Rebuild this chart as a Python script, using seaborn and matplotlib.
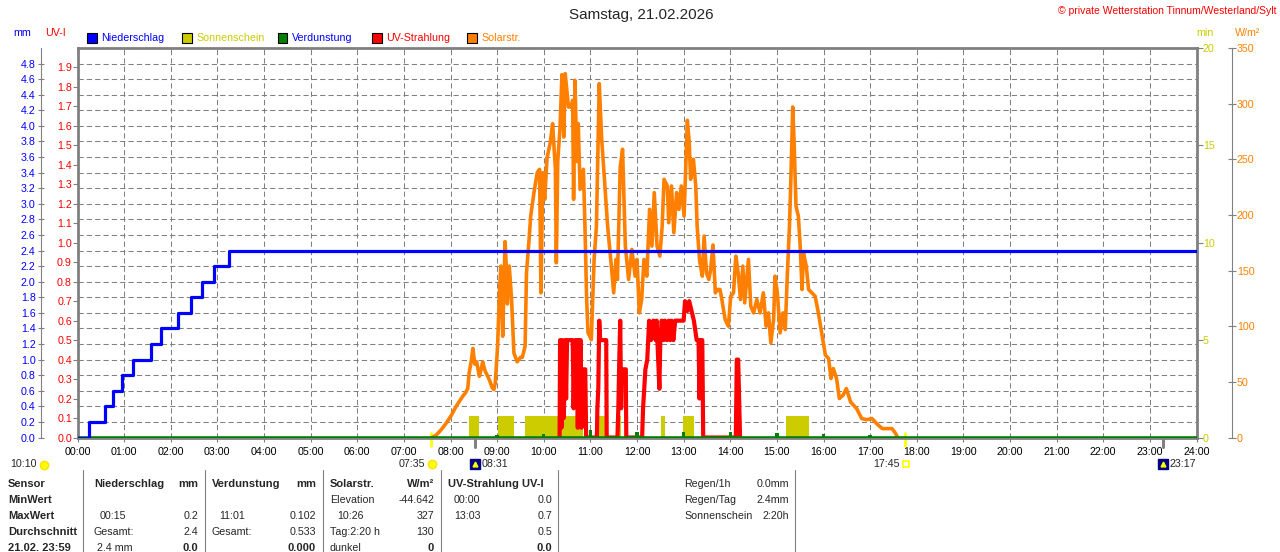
import matplotlib
matplotlib.use("Agg")
import matplotlib.pyplot as plt
import matplotlib.transforms as mtransforms
from matplotlib.patches import Rectangle
from matplotlib.lines import Line2D
import seaborn as sns

# ---------------- data ----------------
hours = [0, 1, 2, 3, 4, 5, 6, 7, 8, 9, 10, 11, 12, 13, 14, 15, 16, 17, 18, 19, 20, 21, 22, 23, 24]
hour_labels = ["00:00", "01:00", "02:00", "03:00", "04:00", "05:00", "06:00", "07:00", "08:00",
               "09:00", "10:00", "11:00", "12:00", "13:00", "14:00", "15:00", "16:00", "17:00",
               "18:00", "19:00", "20:00", "21:00", "22:00", "23:00", "24:00"]

mm_ticks = [0.0, 0.2, 0.4, 0.6, 0.8, 1.0, 1.2, 1.4, 1.6, 1.8, 2.0, 2.2, 2.4, 2.6, 2.8, 3.0,
            3.2, 3.4, 3.6, 3.8, 4.0, 4.2, 4.4, 4.6, 4.8]
uv_ticks = [0.0, 0.1, 0.2, 0.3, 0.4, 0.5, 0.6, 0.7, 0.8, 0.9, 1.0, 1.1, 1.2, 1.3, 1.4, 1.5,
            1.6, 1.7, 1.8, 1.9]
min_ticks = [0, 5, 10, 15, 20]
w_ticks = [0, 50, 100, 150, 200, 250, 300, 350]

# cumulative precipitation (mm)
precip_t = [0.0, 0.25, 0.58, 0.76, 0.95, 1.20, 1.57, 1.80, 2.15, 2.44, 2.67, 2.92, 3.26, 24.0]
precip_mm = [0.0, 0.2, 0.4, 0.6, 0.8, 1.0, 1.2, 1.4, 1.6, 1.8, 2.0, 2.2, 2.4, 2.4]

# sunshine (min) periods
sun_start = [8.39, 9.01, 9.59, 11.19, 11.61, 12.51, 12.99, 15.20]
sun_end = [8.62, 9.37, 10.84, 11.34, 11.66, 12.60, 13.23, 15.68]
sun_min = [1.1, 1.1, 1.1, 1.1, 1.1, 1.1, 1.1, 1.1]

# evaporation (mm)
evap_t = [9, 10, 11, 12, 13, 14, 15, 16, 17]
evap_mm = [0.03, 0.05, 0.102, 0.07, 0.07, 0.07, 0.055, 0.05, 0.03]

# UV index
uv_t = [10.34, 10.35, 10.38, 10.40, 10.43, 10.46, 10.48, 10.50, 10.62, 10.63, 10.64, 10.66,
        10.68, 10.71, 10.73, 10.75, 10.77, 10.79, 10.81, 10.84, 10.89, 10.91,
        11.14, 11.15, 11.17, 11.19, 11.21, 11.34, 11.35,
        11.58, 11.60, 11.62, 11.64, 11.66, 11.68, 11.76, 11.77,
        12.11, 12.13, 12.18, 12.22, 12.26, 12.30, 12.35, 12.40, 12.42, 12.48, 12.50, 12.53,
        12.57, 12.60, 12.64, 12.68, 12.71, 12.74, 12.78, 12.82, 12.85, 12.92, 13.00, 13.03,
        13.08, 13.12, 13.17, 13.22, 13.28, 13.32, 13.34, 13.36, 13.40, 13.42,
        14.12, 14.14, 14.17, 14.19, 14.21]
uv_v = [0.0, 0.5, 0.05, 0.5, 0.1, 0.5, 0.2, 0.5, 0.5, 0.35, 0.15, 0.4,
        0.5, 0.5, 0.05, 0.5, 0.1, 0.5, 0.05, 0.35, 0.35, 0.0,
        0.0, 0.15, 0.25, 0.6, 0.5, 0.5, 0.0,
        0.0, 0.15, 0.4, 0.6, 0.15, 0.35, 0.35, 0.0,
        0.0, 0.15, 0.35, 0.4, 0.6, 0.5, 0.6, 0.5, 0.6, 0.25, 0.5, 0.6,
        0.5, 0.6, 0.5, 0.6, 0.5, 0.6, 0.5, 0.6, 0.6, 0.6, 0.6, 0.7,
        0.65, 0.7, 0.65, 0.6, 0.5, 0.5, 0.2, 0.5, 0.5, 0.0,
        0.0, 0.4, 0.4, 0.2, 0.0]

# solar radiation (W/m2)
solar_t = [7.60, 7.69, 7.80, 7.91, 8.02, 8.12, 8.20, 8.26, 8.32, 8.37, 8.40, 8.45, 8.48, 8.52, 8.56,
           8.62, 8.66, 8.69, 8.74, 8.80, 8.85, 8.89, 8.93, 8.96, 9.01, 9.05, 9.08, 9.12, 9.15, 9.17,
           9.20, 9.22, 9.26, 9.31, 9.36, 9.43, 9.50, 9.54, 9.60, 9.63, 9.68, 9.72, 9.79, 9.86, 9.91,
           9.94, 9.98, 10.02, 10.07, 10.14, 10.19, 10.25, 10.27, 10.30, 10.35, 10.39, 10.43, 10.46,
           10.53, 10.59, 10.62, 10.64, 10.67, 10.71, 10.74, 10.78, 10.85, 10.88, 10.92, 10.95, 11.02,
           11.08, 11.13, 11.19, 11.24, 11.30, 11.37, 11.45, 11.50, 11.55, 11.58, 11.64, 11.69, 11.75,
           11.82, 11.89, 11.96, 12.00, 12.05, 12.10, 12.15, 12.21, 12.27, 12.32, 12.37, 12.43, 12.49,
           12.54, 12.58, 12.65, 12.68, 12.74, 12.79, 12.85, 12.90, 12.95, 13.01, 13.04, 13.08, 13.12,
           13.15, 13.21, 13.26, 13.29, 13.34, 13.40, 13.44, 13.49, 13.54, 13.58, 13.63, 13.68, 13.73,
           13.78, 13.82, 13.89, 13.96, 14.01, 14.07, 14.12, 14.17, 14.22, 14.27, 14.31, 14.39, 14.44,
           14.50, 14.57, 14.64, 14.71, 14.77, 14.82, 14.87, 14.93, 14.96, 15.01, 15.07, 15.13, 15.18,
           15.22, 15.27, 15.30, 15.34, 15.37, 15.41, 15.46, 15.50, 15.54, 15.57, 15.63, 15.68, 15.75,
           15.82, 15.89, 15.96, 16.04, 16.11, 16.16, 16.21, 16.28, 16.34, 16.42, 16.49, 16.58, 16.71,
           16.82, 16.93, 17.04, 17.15, 17.26, 17.47, 17.54, 17.58]
solar_w = [0, 2, 7, 13, 20, 28, 33, 37, 40, 44, 58, 70, 80, 66, 68,
           55, 62, 68, 60, 55, 50, 45, 43, 49, 82, 130, 154, 91, 140, 176,
           150, 120, 154, 124, 76, 68, 72, 72, 82, 148, 175, 199, 220, 238, 241,
           130, 238, 214, 251, 265, 282, 241, 157, 248, 279, 326, 270, 327,
           297, 297, 303, 214, 321, 248, 282, 223, 241, 196, 124, 94, 88,
           160, 190, 318, 270, 233, 190, 154, 130, 160, 142, 243, 259, 172,
           142, 169, 145, 160, 112, 124, 160, 145, 205, 172, 220, 172, 163,
           190, 232, 226, 193, 226, 184, 220, 205, 226, 199, 235, 285, 265,
           232, 250, 226, 190, 160, 145, 181, 148, 142, 151, 173, 130, 133,
           133, 124, 106, 100, 127, 130, 163, 148, 124, 154, 121, 160, 118,
           112, 124, 112, 130, 100, 112, 85, 106, 145, 130, 94, 112, 97,
           142, 190, 232, 297, 265, 208, 199, 172, 133, 166, 154, 133, 130,
           127, 112, 94, 74, 71, 53, 62, 53, 35, 38, 44, 32, 26,
           17, 16, 17, 12, 8, 8, 4, 1]

sunrise, sunset = 7 + 35 / 60, 17 + 45 / 60
moonrise, moonset = 8 + 31 / 60, 23 + 17 / 60
day_length = "10:10"

# ---------------- style ----------------
sns.set_theme(style="white")
plt.rcParams["font.family"] = ["Liberation Sans", "DejaVu Sans"]

BLUE, RED, ORANGE, YELLOW, GREEN, GRAY = "#0000FF", "#FF0000", "#FF8000", "#CCCC00", "#008000", "#808080"
FS = 7.7
W_PX, H_PX = 1280, 552


def fx(x):
    return x / W_PX


def fy(y):
    return 1 - y / H_PX


def hhmm(t):
    return f"{int(t):02d}:{round((t % 1) * 60):02d}"


fig = plt.figure(figsize=(12.8, 5.52), dpi=100)
L, R, T, B = 77.5, 1196.5, 48.0, 437.5
ax = fig.add_axes([fx(L), fy(B), fx(R - L), (B - T) / H_PX])

# base axis: mm scale + grid
ax.set_xlim(0, 24)
ax.set_ylim(0, 5)
ax.set_xticks(hours)
ax.set_xticklabels(hour_labels)
ax.set_yticks(mm_ticks)
ax.set_yticklabels([f"{v:.1f}" for v in mm_ticks])
ax.set_axisbelow(True)
ax.grid(True, color=GRAY, ls=(0, (5, 3)), lw=0.75)
ax.spines["left"].set_position(("outward", 26.6))
ax.spines["left"].set_color(GRAY)
ax.spines["left"].set_linewidth(0.8)
for s in ("top", "bottom"):
    ax.spines[s].set_color(GRAY)
    ax.spines[s].set_linewidth(2)
ax.spines["right"].set_visible(False)
ax.tick_params(axis="y", direction="inout", length=5, width=0.8, color=GRAY,
               labelcolor=BLUE, labelsize=FS, pad=1)
ax.tick_params(axis="x", direction="out", length=3, width=0.8, color=GRAY,
               labelcolor="black", labelsize=FS, pad=3.5, bottom=True)

# sunshine (min)
ax_min = ax.twinx()
ax_min.set_ylim(0, 20)
ax_min.set_yticks(min_ticks)
for s in ("top", "bottom", "left"):
    ax_min.spines[s].set_visible(False)
ax_min.spines["right"].set_color(GRAY)
ax_min.spines["right"].set_linewidth(2)
ax_min.tick_params(axis="y", direction="out", length=4, width=0.8, color=GRAY,
                   labelcolor=YELLOW, labelsize=FS, pad=0.5)
durations = [e - s for s, e in zip(sun_start, sun_end)]
ax_min.bar(sun_start, sun_min, width=durations, align="edge", color=YELLOW, lw=0)

# solar radiation (W/m2)
ax_w = ax.twinx()
ax_w.set_ylim(0, 350)
ax_w.set_yticks(w_ticks)
for s in ("top", "bottom", "left"):
    ax_w.spines[s].set_visible(False)
ax_w.spines["right"].set_position(("outward", 25.9))
ax_w.spines["right"].set_color(GRAY)
ax_w.spines["right"].set_linewidth(0.8)
ax_w.tick_params(axis="y", direction="inout", length=5.5, width=0.8, color=GRAY,
                 labelcolor=ORANGE, labelsize=FS, pad=0.5)
sns.lineplot(x=solar_t, y=solar_w, ax=ax_w, color=ORANGE, lw=2.6, estimator=None)

# UV index
ax_uv = ax.twinx()
ax_uv.set_ylim(0, 2.0)
ax_uv.yaxis.tick_left()
ax_uv.set_yticks(uv_ticks)
ax_uv.set_yticklabels([f"{v:.1f}" for v in uv_ticks])
for s in ("top", "bottom", "right"):
    ax_uv.spines[s].set_visible(False)
ax_uv.spines["left"].set_visible(True)
ax_uv.spines["left"].set_color(GRAY)
ax_uv.spines["left"].set_linewidth(2)
ax_uv.tick_params(axis="y", direction="out", length=3.5, width=0.8, color=GRAY,
                  labelcolor=RED, labelsize=FS, pad=0.5, left=True, right=False,
                  labelleft=True, labelright=False)
sns.lineplot(x=uv_t, y=uv_v, ax=ax_uv, color=RED, lw=3.0, estimator=None)

# evaporation + precipitation on top
ax_top = ax.twinx()
ax_top.set_ylim(0, 5)
ax_top.set_xlim(0, 24)
ax_top.axis("off")
ax_top.bar(evap_t, evap_mm, width=0.07, color=GREEN, lw=0)
ax_top.axhline(0, color=GREEN, lw=2.6, clip_on=True)
sns.lineplot(x=precip_t, y=precip_mm, ax=ax_top, color=BLUE, lw=2.3, estimator=None,
             drawstyle="steps-post")
for a in (ax_min, ax_w, ax_uv, ax_top):
    a.set_xlim(0, 24)
    a.set_ylabel("")
    a.set_xlabel("")

# sun / moon markers below the axis
ax.axvline(sunrise, ymin=-0.022, ymax=0.012, color="#FFFF00", lw=2, clip_on=False)
ax.axvline(sunset, ymin=-0.022, ymax=0.012, color="#FFFF00", lw=2, clip_on=False)
ax.axvline(moonrise, ymin=-0.025, ymax=0.0, color=GRAY, lw=2.2, clip_on=False)
ax.axvline(moonset, ymin=-0.025, ymax=0.0, color=GRAY, lw=2.2, clip_on=False)

dy = -(464 - B) * 0.72


def below(dx_pt):
    return ax.get_xaxis_transform() + mtransforms.ScaledTranslation(dx_pt / 72, dy / 72,
                                                                     fig.dpi_scale_trans)


ax.annotate(hhmm(sunrise), xy=(sunrise, 0), xycoords=("data", "axes fraction"),
            xytext=(-4.5, dy), textcoords="offset points", ha="right", va="center", fontsize=FS)
ax.plot([sunrise], [0], marker="o", ms=6, mfc="#FFFF00", mec="#FFE000", clip_on=False,
        ls="none", transform=below(0.7))
ax.annotate(hhmm(sunset), xy=(sunset, 0), xycoords=("data", "axes fraction"),
            xytext=(-4.0, dy), textcoords="offset points", ha="right", va="center", fontsize=FS)
ax.plot([sunset], [0], marker="s", ms=4, mfc="white", mec="#FFFF00", mew=1.2,
        clip_on=False, ls="none", transform=below(0.7))
for mt in (moonrise, moonset):
    ax.annotate(hhmm(mt), xy=(mt, 0), xycoords=("data", "axes fraction"),
                xytext=(4.8, dy), textcoords="offset points", ha="left", va="center", fontsize=FS)
    ax.plot([mt], [0], marker="s", ms=6.5, mfc="#000080", mec="#000080", clip_on=False,
            ls="none", transform=below(0))
    ax.plot([mt], [0], marker="^", ms=3.5, mfc="#FFFF00", mec="#FFFF00", clip_on=False,
            ls="none", transform=below(0))

fig.text(fx(10), fy(464), day_length, ha="left", va="center", fontsize=FS)
fig.add_artist(Line2D([fx(44)], [fy(465)], marker="o", ms=6, mfc="#FFFF00", mec="#FFE000",
                      ls="none", transform=fig.transFigure))

# ---------------- header texts ----------------
fig.text(fx(641), fy(15), "Samstag, 21.02.2026", ha="center", va="center", fontsize=11)
fig.text(fx(1277), fy(11), "© private Wetterstation Tinnum/Westerland/Sylt", ha="right",
         va="center", fontsize=7.5, color=RED)
fig.text(fx(22), fy(33), "mm", ha="center", va="center", fontsize=FS, color=BLUE)
fig.text(fx(56), fy(33), "UV-I", ha="center", va="center", fontsize=FS, color=RED)
fig.text(fx(1205), fy(33), "min", ha="center", va="center", fontsize=FS, color=YELLOW)
fig.text(fx(1248), fy(33), "W/m²", ha="center", va="center", fontsize=FS, color=ORANGE)

legend_items = [("Niederschlag", BLUE, BLUE, 87), ("Sonnenschein", YELLOW, YELLOW, 182),
                ("Verdunstung", GREEN, BLUE, 277.5), ("UV-Strahlung", RED, RED, 372),
                ("Solarstr.", ORANGE, ORANGE, 467)]
for name, fc, tc, x0 in legend_items:
    fig.add_artist(Rectangle((fx(x0), fy(43)), 9.5 / W_PX, 10 / H_PX, transform=fig.transFigure,
                             fc=fc, ec="black", lw=0.8))
    fig.text(fx(x0 + 14.5), fy(38), name, ha="left", va="center", fontsize=FS, color=tc)

# ---------------- bottom table ----------------
rows_y = [484, 500, 516, 532, 548]
for x in (83, 205, 323, 441, 558, 795):
    fig.add_artist(Line2D([fx(x), fx(x)], [fy(470), fy(552)], color=GRAY, lw=0.8,
                          transform=fig.transFigure))

row_labels = ["Sensor", "MinWert", "MaxWert", "Durchschnitt", "21.02. 23:59"]
for y, t in zip(rows_y, row_labels):
    fig.text(fx(8), fy(y), t, ha="left", va="center", fontsize=8, fontweight="bold")

cells = [
    # (x, row, text, ha, bold)
    (94, 0, "Niederschlag", "left", True), (198, 0, "mm", "right", True),
    (100, 2, "00:15", "left", False), (198, 2, "0.2", "right", False),
    (94, 3, "Gesamt:", "left", False), (198, 3, "2.4", "right", False),
    (97, 4, "2.4 mm", "left", False), (198, 4, "0.0", "right", True),
    (212, 0, "Verdunstung", "left", True), (316, 0, "mm", "right", True),
    (219, 2, "11:01", "left", False), (316, 2, "0.102", "right", False),
    (212, 3, "Gesamt:", "left", False), (316, 3, "0.533", "right", False),
    (316, 4, "0.000", "right", True),
    (330, 0, "Solarstr.", "left", True), (434, 0, "W/m²", "right", True),
    (330, 1, "Elevation", "left", False), (434, 1, "-44.642", "right", False),
    (337, 2, "10:26", "left", False), (434, 2, "327", "right", False),
    (330, 3, "Tag:2:20 h", "left", False), (434, 3, "130", "right", False),
    (330, 4, "dunkel", "left", False), (434, 4, "0", "right", True),
    (448, 0, "UV-Strahlung UV-I", "left", True),
    (454, 1, "00:00", "left", False), (552, 1, "0.0", "right", False),
    (454, 2, "13:03", "left", False), (552, 2, "0.7", "right", False),
    (552, 3, "0.5", "right", False), (552, 4, "0.0", "right", True),
    (684, 0, "Regen/1h", "left", False), (789, 0, "0.0mm", "right", False),
    (684, 1, "Regen/Tag", "left", False), (789, 1, "2.4mm", "right", False),
    (684, 2, "Sonnenschein", "left", False), (789, 2, "2:20h", "right", False),
]
for x, r, t, ha, bold in cells:
    fig.text(fx(x), fy(rows_y[r]), t, ha=ha, va="center", fontsize=8 if bold else FS,
             fontweight="bold" if bold else "normal")

fig.savefig("out.png", dpi=100)
